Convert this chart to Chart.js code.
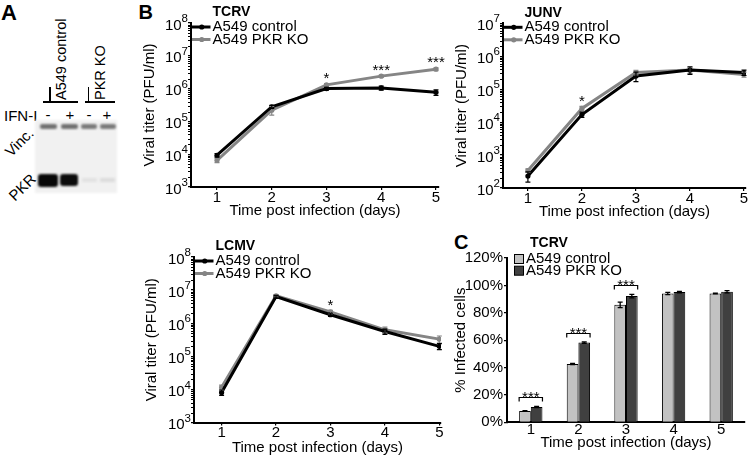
<!DOCTYPE html>
<html><head><meta charset="utf-8">
<script src="https://cdn.jsdelivr.net/npm/chart.js@4"></script>
<style>
html,body{margin:0;padding:0;background:#fff;}
body{width:750px;height:458px;position:relative;overflow:hidden;font-family:'Liberation Sans',Arial,Helvetica,sans-serif;color:#000;-webkit-font-smoothing:antialiased;}
.t{position:absolute;white-space:nowrap;line-height:1;color:#000;}
.r{position:absolute;}
canvas{position:absolute;}
</style></head><body>

<!-- Panel A : western blot -->
<div class="t" style="left:1px;top:2px;font-size:22px;font-weight:bold">A</div>
<div class="t" style="left:53.5px;top:100px;font-size:14.5px;transform:rotate(-90deg);transform-origin:0 0">A549 control</div>
<div class="t" style="left:92.7px;top:100px;font-size:14.5px;transform:rotate(-90deg);transform-origin:0 0">PKR KO</div>
<div class="r" style="left:43px;top:101px;width:35px;height:1.5px;background:#000"></div>
<div class="r" style="left:49.3px;top:87px;width:1.5px;height:15px;background:#000"></div>
<div class="r" style="left:85px;top:101px;width:30px;height:1.5px;background:#000"></div>
<div class="r" style="left:87.6px;top:87px;width:1.5px;height:15px;background:#000"></div>
<div class="t" style="left:4px;top:107.7px;font-size:15px">IFN-I</div>
<div class="t" style="left:43px;top:107px;width:10px;text-align:center;font-size:15px">-</div>
<div class="t" style="left:65px;top:107px;width:10px;text-align:center;font-size:15px">+</div>
<div class="t" style="left:84px;top:107px;width:10px;text-align:center;font-size:15px">-</div>
<div class="t" style="left:102px;top:107px;width:10px;text-align:center;font-size:15px">+</div>
<div class="r" style="left:35px;top:120px;width:82px;height:73px;background:#f1f1f1;filter:blur(1px)"></div>
<div class="r" style="left:40px;top:124px;width:17px;height:5px;background:#707070;border-radius:2px;filter:blur(1px)"></div>
<div class="r" style="left:61px;top:124px;width:17px;height:5px;background:#707070;border-radius:2px;filter:blur(1px)"></div>
<div class="r" style="left:81px;top:124px;width:16px;height:5px;background:#7a7a7a;border-radius:2px;filter:blur(1px)"></div>
<div class="r" style="left:100px;top:124px;width:16px;height:5px;background:#7a7a7a;border-radius:2px;filter:blur(1px)"></div>
<div class="r" style="left:37.5px;top:173.5px;width:20px;height:13px;background:#080808;border-radius:3px;filter:blur(0.8px)"></div>
<div class="r" style="left:60px;top:174px;width:18px;height:12px;background:#0c0c0c;border-radius:3px;filter:blur(0.8px)"></div>
<div class="r" style="left:82px;top:178px;width:15px;height:4px;background:#e2e2e2;filter:blur(1px)"></div>
<div class="r" style="left:100px;top:178px;width:15px;height:4px;background:#dcdcdc;filter:blur(1px)"></div>
<div class="t" style="left:19px;top:141.7px;font-size:15px;transform:translate(-50%,-50%) rotate(-45deg)">Vinc.</div>
<div class="t" style="left:21.7px;top:187px;font-size:15px;transform:translate(-50%,-50%) rotate(-45deg)">PKR</div>

<!-- Panel letters -->
<div class="t" style="left:138.5px;top:2.4px;font-size:20px;font-weight:bold">B</div>
<div class="t" style="left:454px;top:232.4px;font-size:20px;font-weight:bold">C</div>

<canvas id="cTCRV" width="310" height="228" style="left:140px;top:0px"></canvas>
<canvas id="cJUNV" width="300" height="228" style="left:450px;top:0px"></canvas>
<canvas id="cLCMV" width="310" height="228" style="left:140px;top:230px"></canvas>
<canvas id="cPCT" width="310" height="228" style="left:440px;top:230px"></canvas>

<script>
const FONT = "'Liberation Sans', Arial, Helvetica, sans-serif";
const BLACK = '#000000', GRAY = '#858585', LIGHT = '#c2c2c2', DARK = '#404040';

// ---------- data ----------
const days = [1, 2, 3, 4, 5];
const seriesNames = ['A549 control', 'A549 PKR KO'];
const xTitle = 'Time post infection (days)';
const yTitleTiter = 'Viral titer (PFU/ml)';
const yTitlePct = '% Infected cells';

// TCRV viral titer (PFU/ml)
const tcrvDecades = [3, 4, 5, 6, 7, 8];
const tcrvControl    = [9.3e3, 2.8e5, 1.0e6, 1.05e6, 7.7e5];
const tcrvControlErr = [1.2e3, 3.0e4, 1.0e5, 1.5e5, 1.5e5];
const tcrvKO         = [6.5e3, 2.2e5, 1.3e6, 2.4e6, 3.9e6];
const tcrvKOErr      = [1.0e3, 6.5e4, 1.2e5, 2.0e5, 4.0e5];
const tcrvStars      = ['', '', '*', '***', '***'];

// JUNV viral titer (PFU/ml)
const junvDecades = [2, 3, 4, 5, 6, 7];
const junvControl    = [2.3e2, 1.7e4, 2.5e5, 3.8e5, 3.2e5];
const junvControlErr = [8.0e1, 3.0e3, 8.0e4, 1.0e5, 6.0e4];
const junvKO         = [3.4e2, 2.6e4, 3.2e5, 3.8e5, 2.8e5];
const junvKOErr      = [4.0e1, 4.0e3, 5.0e4, 8.0e4, 5.0e4];
const junvStars      = ['', '*', '', '', ''];

// LCMV viral titer (PFU/ml)
const lcmvDecades = [3, 4, 5, 6, 7, 8];
const lcmvControl    = [8.1e3, 6.4e6, 1.8e6, 5.6e5, 2.0e5];
const lcmvControlErr = [1.5e3, 6.0e5, 2.0e5, 1.0e5, 4.0e4];
const lcmvKO         = [1.15e4, 6.7e6, 2.2e6, 6.3e5, 3.3e5];
const lcmvKOErr      = [2.0e3, 6.0e5, 2.5e5, 1.3e5, 8.0e4];
const lcmvStars      = ['', '', '*', '', ''];

// TCRV % infected cells
const pctCategories = ['1', '2', '3', '4', '5'];
const pctTicks      = [0, 20, 40, 60, 80, 100, 120];
const pctControl    = [8.3, 42.6, 85.8, 94.1, 94.1];
const pctControlErr = [0.3, 0.5, 2.0, 0.8, 0.3];
const pctKO         = [11.2, 58.2, 92.2, 95.1, 95.3];
const pctKOErr      = [0.5, 0.6, 1.3, 0.5, 0.8];
const pctSig        = ['***', '***', '***', '', ''];

Chart.defaults.font.family = FONT;
Chart.defaults.color = '#000';

// ---------- drawing helpers (plugin) ----------
const decor = {
  id: 'decor',
  afterDatasetsDraw(chart, args, o) {
    const ctx = chart.ctx, ys = chart.scales.y;
    for (let di = chart.data.datasets.length - 1; di >= 0; di--) {
      const ds = chart.data.datasets[di];
      if (!ds.errors) continue;
      const meta = chart.getDatasetMeta(di);
      ctx.save();
      ctx.strokeStyle = o.errColor || ds.borderColor;
      ctx.lineWidth = o.errWidth || 1.2;
      meta.data.forEach((el, i) => {
        const raw = ds.data[i];
        const v = (typeof raw === 'object') ? raw.y : raw;
        const e = ds.errors[i];
        if (!e) return;
        const lo = Math.max(v - e, ys.min);
        const yHi = ys.getPixelForValue(v + e), yLo = ys.getPixelForValue(lo);
        const c = o.capW || 2.5;
        ctx.beginPath();
        ctx.moveTo(el.x, yHi); ctx.lineTo(el.x, yLo);
        ctx.moveTo(el.x - c, yHi); ctx.lineTo(el.x + c, yHi);
        ctx.moveTo(el.x - c, yLo); ctx.lineTo(el.x + c, yLo);
        ctx.stroke();
      });
      ctx.restore();
    }
  },
  afterDraw(chart, args, o) {
    const ctx = chart.ctx, ca = chart.chartArea, ys = chart.scales.y;
    const dss = chart.data.datasets;
    ctx.save();
    ctx.fillStyle = '#000';
    // log axis: minor ticks + 10^n labels
    if (o.decades) {
      const ax = ca.left;
      const d = o.decades;
      ctx.strokeStyle = '#000'; ctx.lineWidth = 1;
      ctx.beginPath();
      for (let k = 0; k < d.length - 1; k++) {
        for (let m = 2; m <= 9; m++) {
          const y = Math.round(ys.getPixelForValue(m * Math.pow(10, d[k]))) + 0.5;
          ctx.moveTo(ax - 1, y); ctx.lineTo(ax - 3, y);
        }
      }
      ctx.stroke();
      d.forEach(e => {
        const y = ys.getPixelForValue(Math.pow(10, e));
        ctx.textAlign = 'right'; ctx.textBaseline = 'middle';
        ctx.font = '11.5px ' + FONT;
        const sup = String(e);
        const sw = ctx.measureText(sup).width;
        ctx.fillText(sup, ax - 3, y - 4);
        ctx.font = '15px ' + FONT;
        ctx.fillText('10', ax - 3 - sw, y + 2.5);
      });
    }
    // line legend
    if (o.lineLegend) {
      const L = o.lineLegend, x0 = ca.left, t = ca.top;
      ctx.textAlign = 'left'; ctx.textBaseline = 'middle';
      ctx.font = 'bold 14px ' + FONT;
      ctx.fillStyle = '#000';
      ctx.fillText(L.title, x0 + L.dx, t - 10.5);
      dss.forEach((ds, i) => {
        const y = t + 4 + 12.5 * i;
        ctx.strokeStyle = ds.borderColor; ctx.lineWidth = 3;
        ctx.beginPath(); ctx.moveTo(x0 + 1, y); ctx.lineTo(x0 + L.dx - 2, y); ctx.stroke();
        ctx.fillStyle = ds.borderColor;
        ctx.beginPath(); ctx.arc(x0 + L.dx / 2, y, 2.6, 0, Math.PI * 2); ctx.fill();
        ctx.fillStyle = '#000';
        ctx.font = '15px ' + FONT;
        ctx.fillText(ds.label, x0 + L.dx, y);
      });
    }
    // box legend (bar chart)
    if (o.boxLegend) {
      const L = o.boxLegend, x0 = ca.left, t = ca.top;
      ctx.textAlign = 'left'; ctx.textBaseline = 'middle';
      ctx.font = 'bold 14px ' + FONT;
      ctx.fillStyle = '#000';
      ctx.fillText(L.title, x0 + 23, t - 15);
      dss.forEach((ds, i) => {
        const y = t + 1 + 11.7 * i;
        ctx.fillStyle = ds.backgroundColor;
        ctx.fillRect(x0 + 7, y - 4.5, 9, 9);
        ctx.strokeStyle = '#000'; ctx.lineWidth = 1;
        ctx.strokeRect(x0 + 7.5, y - 4.5, 9, 9);
        ctx.fillStyle = '#000';
        ctx.font = '15px ' + FONT;
        ctx.fillText(ds.label, x0 + 19, y);
      });
    }
    // significance stars (line charts)
    if (o.stars) {
      ctx.font = '15px ' + FONT; ctx.textAlign = 'center'; ctx.textBaseline = 'alphabetic';
      ctx.fillStyle = '#000';
      o.stars.forEach((s, i) => {
        if (!s) return;
        let top = Infinity, x = 0;
        dss.forEach((ds, di) => {
          const el = chart.getDatasetMeta(di).data[i];
          top = Math.min(top, ys.getPixelForValue(ds.data[i].y + ds.errors[i]));
          x = el.x;
        });
        const yc = top - 9;
        ctx.fillText(s, x, yc + 0.57 * 15);
      });
    }
    // brackets (bar chart)
    if (o.brackets) {
      ctx.font = '15px ' + FONT; ctx.textAlign = 'center'; ctx.textBaseline = 'alphabetic';
      o.brackets.forEach((s, i) => {
        if (!s) return;
        const els = dss.map((ds, di) => chart.getDatasetMeta(di).data[i]);
        let top = Infinity;
        dss.forEach(ds => { top = Math.min(top, ys.getPixelForValue(ds.data[i] + ds.errors[i])); });
        const yl = Math.round(top - 9) + 0.5;
        const a = els[0], b = els[els.length - 1];
        const xl = a.x - a.width / 2, xr = b.x + b.width / 2;
        ctx.strokeStyle = '#000'; ctx.lineWidth = 1.2;
        ctx.beginPath();
        ctx.moveTo(xl, yl + 4); ctx.lineTo(xl, yl); ctx.lineTo(xr, yl); ctx.lineTo(xr, yl + 4);
        ctx.stroke();
        ctx.fillStyle = '#000';
        ctx.fillText(s, (xl + xr) / 2, yl - 4.5 + 0.57 * 15);
      });
    }
    ctx.restore();
  }
};

function axisBase() {
  return {
    grid: { display: true, drawOnChartArea: false, drawTicks: true, tickLength: 3, color: '#000', lineWidth: 1.2 },
    border: { display: true, color: '#000', width: 2 }
  };
}

function titerChart(id, g, control, controlErr, ko, koErr, decades, stars, title) {
  const xb = axisBase(), yb = axisBase();
  return new Chart(document.getElementById(id), {
    type: 'line',
    data: {
      datasets: [
        { label: seriesNames[0], data: days.map((d, i) => ({ x: d, y: control[i] })), errors: controlErr,
          borderColor: BLACK, backgroundColor: BLACK, pointBackgroundColor: BLACK, pointBorderColor: BLACK,
          borderWidth: 3, pointRadius: 2.6, pointBorderWidth: 0, tension: 0, order: 1 },
        { label: seriesNames[1], data: days.map((d, i) => ({ x: d, y: ko[i] })), errors: koErr,
          borderColor: GRAY, backgroundColor: GRAY, pointBackgroundColor: GRAY, pointBorderColor: GRAY,
          borderWidth: 3, pointRadius: 2.6, pointBorderWidth: 0, tension: 0, order: 2 }
      ]
    },
    options: {
      responsive: false, animation: false, devicePixelRatio: 1,
      layout: { padding: { left: 0, top: g.top, right: g.right, bottom: 0 } },
      plugins: {
        legend: { display: false }, tooltip: { enabled: false },
        decor: { decades: decades, stars: stars, lineLegend: { title: title, dx: 21.5 } }
      },
      scales: {
        x: Object.assign(xb, {
          type: 'linear', min: g.xMin, max: g.xMax,
          afterBuildTicks: s => { s.ticks = days.map(v => ({ value: v })); },
          afterFit: s => { s.height = g.xH; },
          ticks: { font: { size: 15, lineHeight: 1 }, color: '#000', padding: g.xTickPad, maxRotation: 0 },
          title: { display: true, text: xTitle, color: '#000', font: { size: 15, lineHeight: 1 }, padding: { top: 0, bottom: g.xTitlePad } }
        }),
        y: Object.assign(yb, {
          type: 'logarithmic', min: Math.pow(10, decades[0]), max: Math.pow(10, decades[decades.length - 1]),
          afterBuildTicks: s => { s.ticks = decades.map(e => ({ value: Math.pow(10, e), major: true })); },
          afterFit: s => { s.width = g.yW; },
          ticks: { display: false },
          title: { display: true, text: yTitleTiter, color: '#000', font: { size: 15, lineHeight: 1 }, padding: { top: g.yTitlePad, bottom: 0 } }
        })
      }
    },
    plugins: [decor]
  });
}

titerChart('cTCRV', { top: 23, right: 11, yW: 51, xH: 41, xMin: 0.525, xMax: 5.055, xTickPad: 0.5, xTitlePad: 9.5, yTitlePad: 2.5 },
  tcrvControl, tcrvControlErr, tcrvKO, tcrvKOErr, tcrvDecades, tcrvStars, 'TCRV');
titerChart('cJUNV', { top: 23.3, right: 3, yW: 53, xH: 40, xMin: 0.539, xMax: 5.037, xTickPad: 0.5, xTitlePad: 8.8, yTitlePad: 4.2 },
  junvControl, junvControlErr, junvKO, junvKOErr, junvDecades, junvStars, 'JUNV');
titerChart('cLCMV', { top: 27, right: 9, yW: 54, xH: 35.5, xMin: 0.493, xMax: 5.03, xTickPad: 0, xTitlePad: 2.5, yTitlePad: 4.2 },
  lcmvControl, lcmvControlErr, lcmvKO, lcmvKOErr, lcmvDecades, lcmvStars, 'LCMV');

// ---------- bar chart C ----------
(function () {
  const xb = axisBase(), yb = axisBase();
  xb.grid.drawTicks = false;
  new Chart(document.getElementById('cPCT'), {
    type: 'bar',
    data: {
      labels: pctCategories,
      datasets: [
        { label: seriesNames[0], data: pctControl, errors: pctControlErr, backgroundColor: LIGHT, borderColor: '#000',
          borderWidth: 1, categoryPercentage: 0.49, barPercentage: 1.0 },
        { label: seriesNames[1], data: pctKO, errors: pctKOErr, backgroundColor: DARK, borderColor: '#000',
          borderWidth: 1, categoryPercentage: 0.49, barPercentage: 1.0 }
      ]
    },
    options: {
      responsive: false, animation: false, devicePixelRatio: 1,
      layout: { padding: { left: 0, top: 28, right: 5, bottom: 0 } },
      plugins: {
        legend: { display: false }, tooltip: { enabled: false },
        decor: { errColor: '#000', errWidth: 1.3, capW: 2.5, brackets: pctSig, boxLegend: { title: 'TCRV' } }
      },
      scales: {
        x: Object.assign(xb, {
          type: 'category',
          afterFit: s => { s.height = 35.7; },
          ticks: { font: { size: 15, lineHeight: 1 }, color: '#000', padding: 0.3, maxRotation: 0 },
          title: { display: true, text: xTitle, color: '#000', font: { size: 15, lineHeight: 1 }, padding: { top: 0, bottom: 7.5 } }
        }),
        y: Object.assign(yb, {
          min: 0, max: 120,
          afterBuildTicks: s => { s.ticks = pctTicks.map(v => ({ value: v })); },
          afterFit: s => { s.width = 67; },
          ticks: { font: { size: 15, lineHeight: 1 }, color: '#000', padding: 1, callback: v => v + '%' },
          title: { display: true, text: yTitlePct, color: '#000', font: { size: 15, lineHeight: 1 }, padding: { top: 13.5, bottom: 0 } }
        })
      }
    },
    plugins: [decor]
  });
})();
</script>
</body></html>
